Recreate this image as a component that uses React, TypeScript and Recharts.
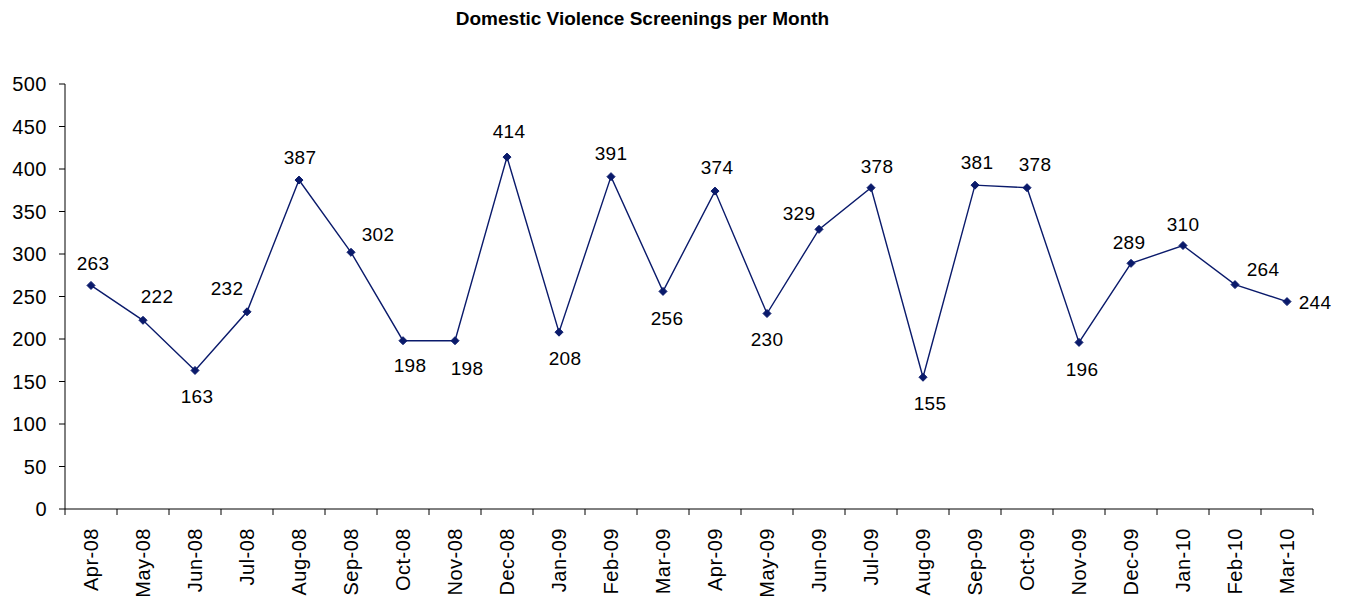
import { Line, LineChart, XAxis, YAxis } from 'recharts';

const MONTHS = [
  'Apr-08', 'May-08', 'Jun-08', 'Jul-08', 'Aug-08', 'Sep-08', 'Oct-08', 'Nov-08',
  'Dec-08', 'Jan-09', 'Feb-09', 'Mar-09', 'Apr-09', 'May-09', 'Jun-09', 'Jul-09',
  'Aug-09', 'Sep-09', 'Oct-09', 'Nov-09', 'Dec-09', 'Jan-10', 'Feb-10', 'Mar-10',
];

const SCREENINGS = [
  263, 222, 163, 232, 387, 302, 198, 198, 414, 208, 391, 256,
  374, 230, 329, 378, 155, 381, 378, 196, 289, 310, 264, 244,
];

const Y_TICKS = [0, 50, 100, 150, 200, 250, 300, 350, 400, 450, 500];

// per-point nudge of the value label (px, from the marker), as placed in the original
const LABEL_NUDGE: Array<[number, number]> = [
  [2, -22], [14, -24], [2, 26], [-20, -23], [1, -23], [27, -18], [7, 25], [12, 28],
  [2, -26], [6, 26], [0, -23], [4, 27], [2, -24], [0, 26], [-20, -16], [6, -21],
  [7, 26], [2, -23], [8, -23], [3, 27], [-2, -21], [0, -21], [28, -15], [28, 1],
];

const NAVY = '#0a1a6b';
const FONT = 'Arial, "Liberation Sans", sans-serif';

const data = MONTHS.map((month, i) => ({ month, pos: i + 0.5, value: SCREENINGS[i] }));

// ticks at every category boundary (tick marks) and every centre (labels)
const X_TICKS = Array.from({ length: MONTHS.length * 2 + 1 }, (_, k) => k / 2);

function MonthTick(props: any) {
  const { x, y, payload } = props;
  const v = payload.value as number;
  if (Number.isInteger(v)) {
    return <line x1={x} x2={x} y1={y - 6} y2={y} stroke="#000" strokeWidth={1} />;
  }
  const ty = y + 13;
  return (
    <text
      x={x}
      y={ty}
      transform={`rotate(-90 ${x} ${ty})`}
      textAnchor="end"
      dominantBaseline="central"
      fontSize={20}
      letterSpacing={0.5}
      fontFamily={FONT}
      fill="#000"
    >
      {MONTHS[Math.floor(v)]}
    </text>
  );
}

function Diamond(props: any) {
  const { cx, cy, index } = props;
  const r = 4;
  return (
    <polygon
      key={`d-${index}`}
      points={`${cx},${cy - r} ${cx + r},${cy} ${cx},${cy + r} ${cx - r},${cy}`}
      fill={NAVY}
      stroke={NAVY}
      strokeWidth={1}
    />
  );
}

function ValueLabel(props: any) {
  const { x, y, value, index } = props;
  const [dx, dy] = LABEL_NUDGE[index] ?? [0, -20];
  return (
    <text
      key={`l-${index}`}
      x={x + dx}
      y={y + dy}
      textAnchor="middle"
      dominantBaseline="central"
      fontSize={19}
      letterSpacing={0.3}
      fontFamily={FONT}
      fill="#000"
    >
      {value}
    </text>
  );
}

export default function App() {
  return (
    <div style={{ position: 'absolute', left: 0, top: 0, width: 1348, height: 598, background: '#fff' }}>
      <div
        style={{
          position: 'absolute',
          left: 0,
          top: 9,
          width: 1285,
          textAlign: 'center',
          fontFamily: FONT,
          fontWeight: 'bold',
          fontSize: 19,
          lineHeight: '19px',
          color: '#000',
        }}
      >
        Domestic Violence Screenings per Month
      </div>
      <LineChart width={1348} height={598} data={data} margin={{ top: 84, right: 35, bottom: 0, left: 0 }}>
        <XAxis
          dataKey="pos"
          type="number"
          domain={[0, MONTHS.length]}
          ticks={X_TICKS}
          interval={0}
          height={89}
          tickSize={6}
          tickMargin={0}
          tickLine={false}
          tick={<MonthTick />}
          axisLine={{ stroke: '#000', strokeWidth: 1 }}
        />
        <YAxis
          type="number"
          domain={[0, 500]}
          ticks={Y_TICKS}
          interval={0}
          width={65}
          tickSize={6}
          tickMargin={12}
          tick={{ fill: '#000', fontSize: 20, fontFamily: FONT, letterSpacing: 0.5 }}
          tickLine={{ stroke: '#000' }}
          axisLine={{ stroke: '#000', strokeWidth: 1 }}
        />
        <Line
          type="linear"
          dataKey="value"
          stroke={NAVY}
          strokeWidth={1.4}
          dot={Diamond}
          activeDot={false}
          label={ValueLabel}
          isAnimationActive={false}
        />
      </LineChart>
    </div>
  );
}
